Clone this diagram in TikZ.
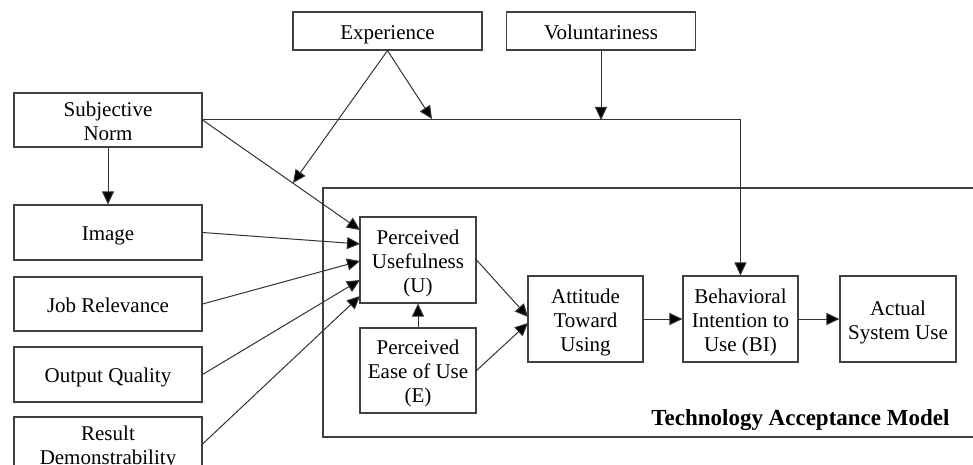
\documentclass[tikz,border=0pt]{standalone}
\usepackage{fontspec}
\setmainfont{Liberation Serif}
\usetikzlibrary{arrows.meta}

\tikzset{
    oneline/.style={text height=16.6pt, text depth=0pt},
    twoline/.style={text height=40.6pt, text depth=0pt},
    threeline/.style={text height=64.6pt, text depth=0pt}
}

\begin{document}
\begin{tikzpicture}[x=1pt,y=-1pt, >={Triangle[length=13pt,width=12pt,fill=black]}]
            \useasboundingbox (0,0) rectangle (973,465);
            \clip (0,0) rectangle (973,465);
            % model frame, open on the right
            \draw[black!75, line width=1.1pt] (990,188) -- (323,188) -- (323,437) -- (990,437);
            \node[anchor=base east, font=\fontsize{23}{26}\selectfont\bfseries] (tam) at (953,425) {Technology Acceptance Model};
            \begin{scope}[every node/.style={draw=black!75, line width=1.1pt, align=center, inner sep=0pt, font=\fontsize{21}{24}\selectfont}]
                \node[oneline, minimum width=189pt, minimum height=38pt] (exp) at (387.5,31) {Experience};
                \node[oneline, minimum width=189pt, minimum height=38pt] (vol) at (601,31) {Voluntariness};

                \node[twoline, minimum width=188pt, minimum height=54pt] (sn) at (108,120) {Subjective\\Norm};
                \node[oneline, minimum width=188pt, minimum height=55pt] (img) at (108,232.5) {Image};
                \node[oneline, minimum width=188pt, minimum height=54pt] (jr) at (108,304) {Job Relevance};
                \node[oneline, minimum width=188pt, minimum height=55pt] (oq) at (108,374.5) {Output Quality};
                \node[twoline, minimum width=188pt, minimum height=54pt] (rd) at (108,444) {Result\\Demonstrability};

                \node[threeline, minimum width=116pt, minimum height=86pt] (pu) at (418,260) {Perceived\\Usefulness\\(U)};
                \node[threeline, minimum width=116pt, minimum height=85pt] (peou) at (418,370.5) {Perceived\\Ease of Use\\(E)};
                \node[threeline, minimum width=115pt, minimum height=86pt] (att) at (585.5,319) {Attitude\\Toward\\Using};
                \node[threeline, minimum width=115pt, minimum height=86pt] (bi) at (740.5,319) {Behavioral\\Intention to\\Use (BI)};
                \node[twoline, minimum width=116pt, minimum height=86pt] (asu) at (898,319) {Actual\\System Use};
            \end{scope}
            % arrow ends on lines and box sides
            \coordinate (expmod) at (432,119);
            \coordinate (expsn) at (293,183);
            \coordinate (pu1) at (360,230);
            \coordinate (pu2) at (360,244);
            \coordinate (pu3) at (360,261);
            \coordinate (pu4) at (360,280);
            \coordinate (pu5) at (360,296);
            \coordinate (att1) at (528,317);
            \coordinate (att2) at (528,323);
            \begin{scope}[every edge/.style={draw=black!80, line width=1pt}]
                \path [->] (exp.south) edge (expmod);
                \path [->] (exp.south) edge (expsn);
                \path [->] (vol.south) edge (vol.south |- sn.east);
                \draw [draw=black!80, line width=1pt, ->] (sn.east) -| (bi.north);

                \path [->] (sn.south) edge (img.north);
                \path [->] (sn.east) edge (pu1);
                \path [->] (img.east) edge (pu2);
                \path [->] (jr.east) edge (pu3);
                \path [->] (oq.east) edge (pu4);
                \path [->] (rd.east) edge (pu5);

                \path [->] (peou.north) edge (pu.south);
                \path [->] (pu.east) edge (att1);
                \path [->] (peou.east) edge (att2);
                \path [->] (att.east) edge (bi.west);
                \path [->] (bi.east) edge (asu.west);
            \end{scope}
        \end{tikzpicture}
\end{document}
